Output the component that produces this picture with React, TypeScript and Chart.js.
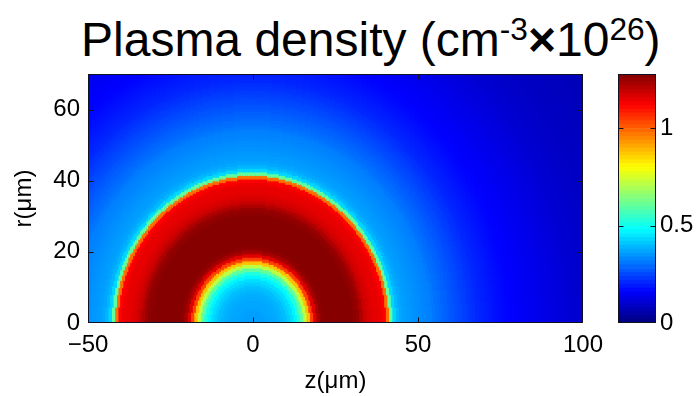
import React, { useEffect, useRef } from "react";
import { Chart, registerables } from "chart.js";

Chart.register(...registerables);

// ---- axes ----
const Z_MIN = -50;
const Z_MAX = 100;
const R_MIN = 0;
const R_MAX = 70;
const Z_TICKS = [-50, 0, 50, 100];
const R_TICKS = [0, 20, 40, 60];
const CBAR_TICKS = [0, 0.5, 1];
const C_MAX = 1.28;
const CELL_UM = 0.5;

// ---- radial plasma density profile (index = distance from origin, μm) ----
const DENSITY_PROFILE = [
  0.36, 0.36, 0.36, 0.36, 0.365, 0.37, 0.37, 0.375, 0.38, 0.39,
  0.4, 0.42, 0.44, 0.47, 0.52, 0.6, 0.72, 0.88, 1.04, 1.16,
  1.23, 1.26, 1.27, 1.27, 1.27, 1.27, 1.27, 1.27, 1.27, 1.27,
  1.27, 1.26, 1.25, 1.22, 1.19, 1.17, 1.16, 1.15, 1.15, 1.14,
  1.12, 0.98, 0.6, 0.43, 0.39, 0.37, 0.36, 0.355, 0.35, 0.345,
  0.34, 0.335, 0.33, 0.325, 0.32, 0.31, 0.3, 0.295, 0.285, 0.28,
  0.27, 0.265, 0.255, 0.25, 0.24, 0.235, 0.225, 0.22, 0.21, 0.205,
  0.2, 0.195, 0.19, 0.185, 0.18, 0.175, 0.17, 0.166, 0.162, 0.158,
  0.155, 0.152, 0.149, 0.146, 0.143, 0.14, 0.137, 0.134, 0.131, 0.128,
  0.125, 0.122, 0.119, 0.116, 0.113, 0.11, 0.107, 0.104, 0.102, 0.1,
  0.098, 0.096, 0.094, 0.092, 0.09, 0.088, 0.087, 0.086, 0.085, 0.084,
  0.083, 0.082, 0.081, 0.08, 0.079, 0.078, 0.077, 0.076, 0.075, 0.074,
  0.073, 0.072, 0.071, 0.07,
];

const CBAR_LEVEL_COUNT = 64;

const FONT_FAMILY = "'Liberation Sans', Arial, Helvetica, sans-serif";

function jet(v: number): string {
  const t = Math.max(0, Math.min(1, v / C_MAX));
  const c = (k: number) =>
    Math.round(255 * Math.max(0, Math.min(1, 1.5 - Math.abs(4 * t - k))));
  return `rgb(${c(3)},${c(2)},${c(1)})`;
}

function buildCells() {
  const pts: { x: number; y: number }[] = [];
  const colors: string[] = [];
  const nz = Math.round((Z_MAX - Z_MIN) / CELL_UM);
  const nr = Math.round((R_MAX - R_MIN) / CELL_UM);
  for (let i = 0; i < nz; i++) {
    const z = Z_MIN + (i + 0.5) * CELL_UM;
    for (let j = 0; j < nr; j++) {
      const r = R_MIN + (j + 0.5) * CELL_UM;
      const d = Math.round(Math.hypot(z, r));
      const v = DENSITY_PROFILE[Math.min(d, DENSITY_PROFILE.length - 1)];
      pts.push({ x: z, y: r });
      colors.push(jet(v));
    }
  }
  return { pts, colors };
}

const framePlugin = {
  id: "frame",
  afterDraw(chart: any) {
    const { ctx, chartArea: a } = chart;
    const L = 5;
    ctx.save();
    ctx.strokeStyle = "#111122";
    ctx.lineWidth = 1;
    const l = Math.round(a.left) + 0.5;
    const t = Math.round(a.top) + 0.5;
    const r = Math.round(a.right) - 0.5;
    const b = Math.round(a.bottom) - 0.5;
    ctx.beginPath();
    Object.values(chart.scales).forEach((s: any) => {
      if (s.type !== "linear" || s.options.display === false) return;
      s.ticks.forEach((tk: any) => {
        const p = Math.round(s.getPixelForValue(tk.value)) + 0.5;
        if (s.isHorizontal()) {
          if (p <= l + 1 || p >= r - 1) return;
          ctx.moveTo(p, b);
          ctx.lineTo(p, b - L);
          ctx.moveTo(p, t);
          ctx.lineTo(p, t + L);
        } else {
          if (p <= t + 1 || p >= b - 1) return;
          ctx.moveTo(l, p);
          ctx.lineTo(l + L, p);
          ctx.moveTo(r, p);
          ctx.lineTo(r - L, p);
        }
      });
    });
    ctx.stroke();
    ctx.strokeRect(l, t, r - l, b - t);
    ctx.restore();
  },
};

const tickFont = { family: FONT_FAMILY, size: 24 };

export default function App() {
  const mainRef = useRef<HTMLCanvasElement>(null);
  const cbarRef = useRef<HTMLCanvasElement>(null);

  useEffect(() => {
    const { pts, colors } = buildCells();
    const main = new Chart(mainRef.current as HTMLCanvasElement, {
      type: "scatter",
      data: {
        datasets: [
          {
            data: pts,
            backgroundColor: colors,
            pointStyle: "rect",
            pointRadius: 2.2,
            pointHoverRadius: 2.2,
            pointBorderWidth: 0,
            borderWidth: 0,
            clip: 0,
          } as any,
        ],
      },
      options: {
        animation: false,
        responsive: false,
        maintainAspectRatio: false,
        events: [],
        parsing: false,
        normalized: true,
        layout: { padding: { left: 0, top: 74, right: 117, bottom: 0 } },
        plugins: { legend: { display: false }, tooltip: { enabled: false } },
        scales: {
          x: {
            type: "linear",
            min: Z_MIN,
            max: Z_MAX,
            afterBuildTicks: (s: any) => {
              s.ticks = Z_TICKS.map((value) => ({ value }));
            },
            afterFit: (s: any) => {
              s.height = 73;
            },
            grid: { display: false, drawTicks: false },
            border: { display: false },
            ticks: {
              padding: 8,
              color: "#000",
              font: tickFont,
              maxRotation: 0,
              autoSkip: false,
              callback: (v: any) => (v < 0 ? "\u2212" + Math.abs(v) : String(v)),
            },
            title: {
              display: true,
              text: "z(μm)",
              color: "#000",
              font: tickFont,
              padding: { top: 4, bottom: 0 },
            },
          },
          y: {
            type: "linear",
            min: R_MIN,
            max: R_MAX,
            afterBuildTicks: (s: any) => {
              s.ticks = R_TICKS.map((value) => ({ value }));
            },
            afterFit: (s: any) => {
              s.width = 88;
            },
            grid: { display: false, drawTicks: false },
            border: { display: false },
            ticks: {
              padding: 8,
              color: "#000",
              font: tickFont,
              autoSkip: false,
              callback: (v: any) => String(v),
            },
            title: {
              display: true,
              text: "r(μm)",
              color: "#000",
              font: tickFont,
              padding: { top: 10, bottom: 0 },
            },
          },
        },
      },
      plugins: [framePlugin],
    });

    const step = C_MAX / CBAR_LEVEL_COUNT;
    const cbarLevels = Array.from({ length: CBAR_LEVEL_COUNT }, (_, i) => (i + 0.5) * step);
    const cbar = new Chart(cbarRef.current as HTMLCanvasElement, {
      type: "bar",
      data: {
        labels: [""],
        datasets: cbarLevels.map((lv) => ({
          data: [step],
          backgroundColor: jet(lv),
          borderWidth: 0,
          barPercentage: 1,
          categoryPercentage: 1,
          stack: "cb",
        })),
      },
      options: {
        animation: false,
        responsive: false,
        maintainAspectRatio: false,
        events: [],
        layout: { padding: { left: 28, top: 74, right: 0, bottom: 73 } },
        plugins: { legend: { display: false }, tooltip: { enabled: false } },
        scales: {
          x: { display: false, stacked: true },
          y: {
            type: "linear",
            position: "right",
            stacked: true,
            min: 0,
            max: C_MAX,
            afterBuildTicks: (s: any) => {
              s.ticks = CBAR_TICKS.map((value) => ({ value }));
            },
            afterFit: (s: any) => {
              s.width = 44;
            },
            grid: { display: false, drawTicks: false },
            border: { display: false },
            ticks: {
              padding: 4,
              color: "#000",
              font: tickFont,
              autoSkip: false,
              callback: (v: any) => String(v),
            },
          },
        },
      },
      plugins: [framePlugin],
    });

    return () => {
      main.destroy();
      cbar.destroy();
    };
  }, []);

  const supStyle: React.CSSProperties = {
    fontSize: "0.66em",
    position: "relative",
    top: "-0.5em",
  };

  return (
    <div
      style={{
        position: "fixed",
        left: 0,
        top: 0,
        width: 700,
        height: 396,
        background: "#fff",
        overflow: "hidden",
      }}
    >
      <div
        style={{
          position: "absolute",
          left: 81,
          top: 16,
          fontFamily: FONT_FAMILY,
          fontSize: 48,
          lineHeight: "48px",
          whiteSpace: "nowrap",
          color: "#000",
        }}
      >
        Plasma density (cm
        <span style={supStyle}>-3</span>
        <span style={{ fontWeight: "bold" }}>×</span>10
        <span style={supStyle}>26</span>)
      </div>
      <canvas
        ref={mainRef}
        width={700}
        height={396}
        style={{ position: "absolute", left: 0, top: 0, width: 700, height: 396 }}
      />
      <canvas
        ref={cbarRef}
        width={110}
        height={396}
        style={{ position: "absolute", left: 590, top: 0, width: 110, height: 396 }}
      />
    </div>
  );
}
